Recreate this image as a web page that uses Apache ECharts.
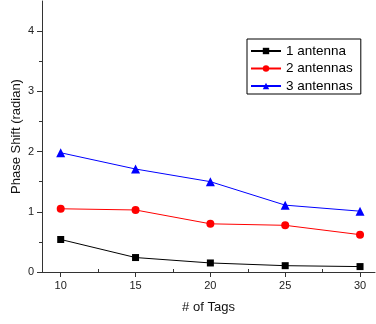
<!DOCTYPE html>
<html><head><meta charset="utf-8">
<script src="https://cdn.jsdelivr.net/npm/echarts@6/dist/echarts.min.js"></script>
<style>html,body{margin:0;padding:0;background:#fff}#c{width:376px;height:324px}</style>
</head><body><div id="c"></div>
<script>
const tags = [10, 15, 20, 25, 30];
const ant1 = [0.54, 0.24, 0.15, 0.105, 0.09];
const ant2 = [1.05, 1.03, 0.80, 0.775, 0.62];
const ant3 = [1.98, 1.71, 1.50, 1.11, 1.01];
const xTicks = [10, 15, 20, 25, 30];
const xMinor = [12.5, 17.5, 22.5, 27.5];
const yTicks = [0, 1, 2, 3, 4];
const yMinor = [0.5, 1.5, 2.5, 3.5];
const names = ['1 antenna', '2 antennas', '3 antennas'];

const font = 'Liberation Sans, Arial, sans-serif';
const axisColor = '#333';
const chart = echarts.init(document.getElementById('c'));
const pair = (xs, ys) => xs.map((x, i) => [x, ys[i]]);
const grid = {left: 42, top: 1, right: 1, bottom: 52, outerBoundsMode: 'none', containLabel: false};
const baseX = {type: 'value', min: 8.75, max: 31, splitLine: {show: false}};
const baseY = {type: 'value', min: 0, max: 4.5, splitLine: {show: false}};
chart.setOption({
  animation: false,
  grid: grid,
  textStyle: {fontFamily: font},
  xAxis: [
    Object.assign({}, baseX, {
      name: '# of Tags', nameLocation: 'middle', nameGap: 29, nameMoveOverlap: false,
      nameTextStyle: {fontSize: 13, color: '#111', fontFamily: font},
      axisLine: {lineStyle: {color: axisColor, width: 1}},
      axisTick: {show: true, length: 5, inside: false, customValues: xTicks, lineStyle: {color: axisColor}},
      axisLabel: {customValues: xTicks, fontSize: 11, color: '#222', margin: 8, fontFamily: font}
    }),
    Object.assign({}, baseX, {
      axisLine: {show: false},
      axisTick: {show: true, length: 3, customValues: xMinor, lineStyle: {color: axisColor}},
      axisLabel: {show: false}
    })
  ],
  yAxis: [
    Object.assign({}, baseY, {
      name: 'Phase Shift (radian)', nameLocation: 'middle', nameGap: 19, nameMoveOverlap: false,
      nameTextStyle: {fontSize: 13, color: '#111', fontFamily: font},
      axisLine: {show: true, lineStyle: {color: axisColor, width: 1}},
      axisTick: {show: true, length: 5, customValues: yTicks, lineStyle: {color: axisColor}},
      axisLabel: {customValues: yTicks, fontSize: 11, color: '#222', margin: 8, fontFamily: font}
    }),
    Object.assign({}, baseY, {
      position: 'left',
      axisLine: {show: false},
      axisTick: {show: true, length: 3, customValues: yMinor, lineStyle: {color: axisColor}},
      axisLabel: {show: false}
    })
  ],
  legend: {
    orient: 'vertical', left: 247, top: 39,
    padding: [5, 8, 1, 3],
    itemWidth: 30, itemHeight: 8, itemGap: 3.5,
    borderColor: '#000', borderWidth: 1,
    textStyle: {fontSize: 13.5, color: '#000', fontFamily: font},
    data: names
  },
  series: [
    {name: names[0], type: 'line', data: pair(tags, ant1), symbol: 'rect', symbolSize: 7,
     itemStyle: {color: '#000'}, lineStyle: {color: '#000', width: 1}},
    {name: names[1], type: 'line', data: pair(tags, ant2), symbol: 'circle', symbolSize: 8,
     itemStyle: {color: '#ff0000'}, lineStyle: {color: '#ff0000', width: 1}},
    {name: names[2], type: 'line', data: pair(tags, ant3), symbol: 'triangle', symbolSize: 9,
     itemStyle: {color: '#0000ff'}, lineStyle: {color: '#0000ff', width: 1}}
  ]
});
</script></body></html>
